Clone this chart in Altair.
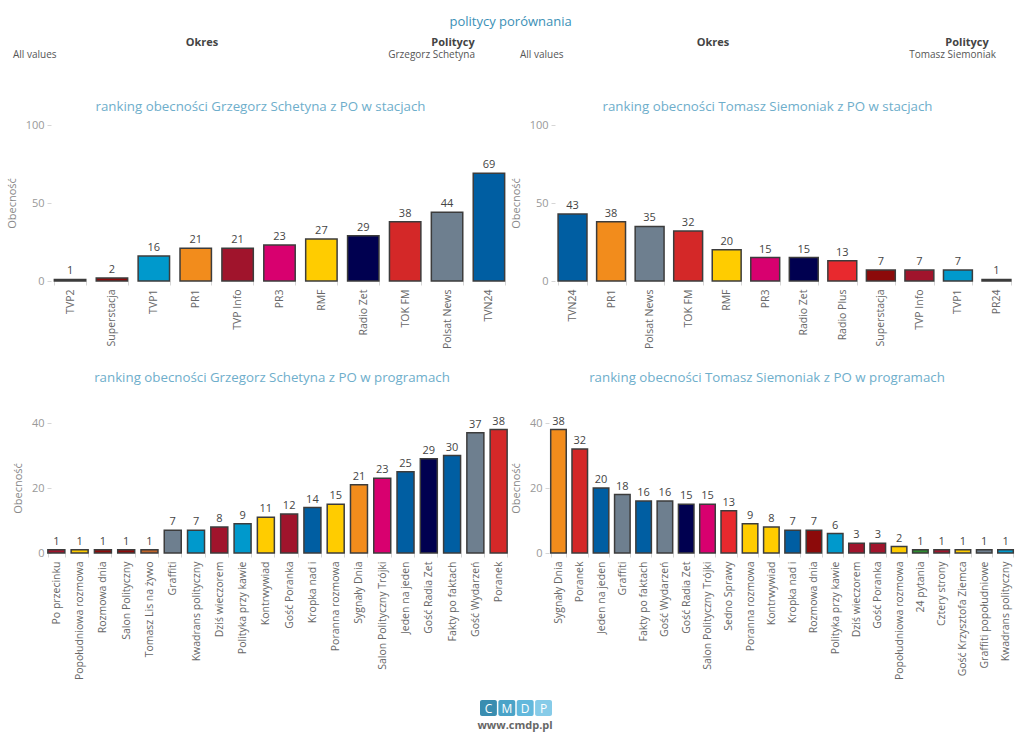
import altair as alt
import pandas as pd

FONT = "Open Sans"

# ---------------- data ----------------
station_names = ["TVP2", "Superstacja", "TVP1", "PR1", "TVP Info", "PR3", "RMF",
                 "Radio Zet", "TOK FM", "Polsat News", "TVN24", "Radio Plus", "PR24"]
station_colors = ["#c0652a", "#8c0a0a", "#0099cc", "#f28c1c", "#a0142c", "#d8006f", "#ffcc00",
                  "#000050", "#d42828", "#6e7f8f", "#005ea2", "#e8292e", "#2e8b30"]

tl_cats = ["TVP2", "Superstacja", "TVP1", "PR1", "TVP Info", "PR3", "RMF",
           "Radio Zet", "TOK FM", "Polsat News", "TVN24"]
tl_vals = [1, 2, 16, 21, 21, 23, 27, 29, 38, 44, 69]

tr_cats = ["TVN24", "PR1", "Polsat News", "TOK FM", "RMF", "PR3", "Radio Zet",
           "Radio Plus", "Superstacja", "TVP Info", "TVP1", "PR24"]
tr_vals = [43, 38, 35, 32, 20, 15, 15, 13, 7, 7, 7, 1]

bl_cats = ["Po przecinku", "Popołudniowa rozmowa", "Rozmowa dnia", "Salon Polityczny",
           "Tomasz Lis na żywo", "Graffiti", "Kwadrans polityczny", "Dziś wieczorem",
           "Polityka przy kawie", "Kontrwywiad", "Gość Poranka", "Kropka nad i",
           "Poranna rozmowa", "Sygnały Dnia", "Salon Polityczny Trójki", "Jeden na jeden",
           "Gość Radia Zet", "Fakty po faktach", "Gość Wydarzeń", "Poranek"]
bl_vals = [1, 1, 1, 1, 1, 7, 7, 8, 9, 11, 12, 14, 15, 21, 23, 25, 29, 30, 37, 38]
bl_station = ["TVP Info", "RMF", "Superstacja", "Superstacja", "TVP2", "Polsat News", "TVP1",
              "TVP Info", "TVP1", "RMF", "TVP Info", "TVN24", "RMF", "PR1", "PR3", "TVN24",
              "Radio Zet", "TVN24", "Polsat News", "TOK FM"]

br_cats = ["Sygnały Dnia", "Poranek", "Jeden na jeden", "Graffiti", "Fakty po faktach",
           "Gość Wydarzeń", "Gość Radia Zet", "Salon Polityczny Trójki", "Sedno Sprawy",
           "Poranna rozmowa", "Kontrwywiad", "Kropka nad i", "Rozmowa dnia",
           "Polityka przy kawie", "Dziś wieczorem", "Gość Poranka", "Popołudniowa rozmowa",
           "24 pytania", "Cztery strony", "Gość Krzysztofa Ziemca", "Graffiti popołudniowe",
           "Kwadrans polityczny"]
br_vals = [38, 32, 20, 18, 16, 16, 15, 15, 13, 9, 8, 7, 7, 6, 3, 3, 2, 1, 1, 1, 1, 1]
br_station = ["PR1", "TOK FM", "TVN24", "Polsat News", "TVN24", "Polsat News", "Radio Zet",
              "PR3", "Radio Plus", "RMF", "RMF", "TVN24", "Superstacja", "TVP1", "TVP Info",
              "TVP Info", "RMF", "PR24", "TVP Info", "RMF", "Polsat News", "TVP1"]

header_titles = ["Okres", "Politycy", "Okres", "Politycy"]
header_values = ["All values", "Grzegorz Schetyna", "All values", "Tomasz Siemoniak"]

logo_letters = ["C", "M", "D", "P"]
logo_colors = ["#3a8db0", "#4aa3c8", "#62b8dc", "#86cbe8"]


# ---------------- panels ----------------
def panel(cats, vals, stations, title, ymax, yticks, w, h, toff, tdx, xrange=None, pin=0.25):
    df = pd.DataFrame({"cat": cats, "val": vals, "st": stations})
    if xrange is None:
        xs = alt.Scale(paddingInner=pin, paddingOuter=0.08)
    else:
        xs = alt.Scale(paddingInner=pin, paddingOuter=0.08, range=xrange)
    base = alt.Chart(df).encode(
        x=alt.X("cat:N", sort=cats, title=None, scale=xs,
                axis=alt.Axis(labelAngle=-90, labelFontSize=10.5, labelColor="#666",
                              labelPadding=4, domain=False, ticks=True, tickBand="extent",
                              tickSize=4, tickColor="#d6d6d6", labelLimit=200)),
        y=alt.Y("val:Q", scale=alt.Scale(domain=[0, ymax], nice=False),
                axis=alt.Axis(values=yticks, title="Obecność", domain=False, grid=False,
                              tickSize=4, tickColor="#d6d6d6", labelColor="#999999",
                              labelFontSize=11, labelPadding=3, titleColor="#888",
                              titleFontSize=11, titleFontWeight="normal", titlePadding=8)),
    )
    bars = base.mark_bar(stroke="#3c3c3c", strokeWidth=1.5).encode(
        color=alt.Color("st:N", scale=alt.Scale(domain=station_names, range=station_colors),
                        legend=None)
    )
    labels = base.mark_text(dy=-8, fontSize=11, color="#444", font=FONT).encode(text="val:Q")
    return alt.layer(bars, labels).properties(
        width=w, height=h,
        title=alt.TitleParams(title, fontSize=13.3, color="#6eaecb", font=FONT,
                              fontWeight="normal", offset=toff, anchor="middle", dx=tdx),
    )


tl = panel(tl_cats, tl_vals, tl_cats,
           "ranking obecności Grzegorz Schetyna z PO w stacjach", 100, [0, 50, 100],
           457, 156, 6, -19)
tr = panel(tr_cats, tr_vals, tr_cats,
           "ranking obecności Tomasz Siemoniak z PO w stacjach", 100, [0, 50, 100],
           459, 156, 6, -17)
bl = panel(bl_cats, bl_vals, bl_station,
           "ranking obecności Grzegorz Schetyna z PO w programach", 40, [0, 20, 40],
           454, 130, 31, -6, xrange=[-5, 458], pin=0.27)
br = panel(br_cats, br_vals, br_station,
           "ranking obecności Tomasz Siemoniak z PO w programach", 40, [0, 20, 40],
           466, 130, 31, -15, pin=0.27)

# ---------------- header ----------------
htexts = []
title_x = [151, 402, 662, 916]
value_x = [-38, 424, 469, 945]
value_align = ["left", "right", "left", "right"]
for i in range(4):
    htexts.append(
        alt.Chart(pd.DataFrame({"t": [header_titles[i]]})).mark_text(
            fontSize=11, fontWeight="bold", color="#444", font=FONT, align="center")
        .encode(text="t:N", x=alt.value(title_x[i]), y=alt.value(10))
    )
    htexts.append(
        alt.Chart(pd.DataFrame({"v": [header_values[i]]})).mark_text(
            fontSize=10, color="#555", font=FONT, align=value_align[i])
        .encode(text="v:N", x=alt.value(value_x[i]), y=alt.value(22))
    )
header = alt.layer(*htexts).properties(width=946, height=54)

# ---------------- logo ----------------
ldf = pd.DataFrame({"l": logo_letters, "c": logo_colors})
lx = alt.X("l:N", sort=logo_letters, axis=None,
           scale=alt.Scale(range=[429, 501], paddingInner=0.08, paddingOuter=0))
squares = alt.Chart(ldf).mark_rect(cornerRadius=2).encode(
    x=lx, y=alt.value(8), y2=alt.value(24),
    color=alt.Color("c:N", scale=None))
letters = alt.Chart(ldf).mark_text(color="white", fontSize=12, font=FONT).encode(
    x=lx, y=alt.value(17), text="l:N")
www = alt.Chart(pd.DataFrame({"w": ["www.cmdp.pl"]})).mark_text(
    fontSize=11, fontWeight="bold", color="#666", font=FONT).encode(
    x=alt.value(464), y=alt.value(34), text="w:N")
logo = alt.layer(squares, letters, www).properties(width=600, height=40)

row1 = alt.hconcat(tl, tr, spacing=2)
row2 = alt.hconcat(bl, br, spacing=-4)
rows = alt.vconcat(row1, row2, spacing=22)

chart = alt.vconcat(header, rows, logo, spacing=12).properties(
    title=alt.TitleParams("politycy porównania", fontSize=13, color="#3b90b6", font=FONT,
                          fontWeight="normal", anchor="middle", offset=4),
    padding={"left": 6, "top": 16, "right": 5, "bottom": 5},
).configure_view(stroke=None).configure_axis(labelFont=FONT, titleFont=FONT)

chart.save("out.html", embed_options={"renderer": "svg", "actions": False})
